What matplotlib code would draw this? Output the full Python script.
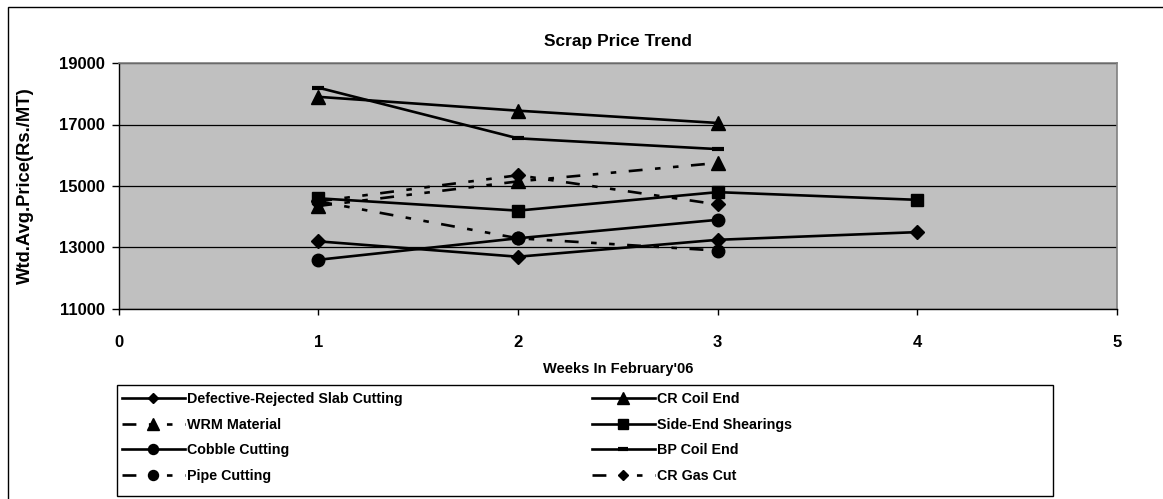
import matplotlib

matplotlib.use("Agg")
import matplotlib.pyplot as plt
from matplotlib.patches import Rectangle

plt.rcParams["font.family"] = ["Liberation Sans", "DejaVu Sans"]
plt.rcParams["font.weight"] = "bold"
plt.rcParams["lines.scale_dashes"] = False

# --- data -------------------------------------------------------------------------------
weeks = [1, 2, 3, 4]

defective_slab = [13200, 12700, 13250, 13500]
cr_coil_end = [17900, 17450, 17050]
wrm_material = [14350, 15150, 15750]
side_end_shearings = [14600, 14200, 14800, 14550]
cobble_cutting = [12600, 13300, 13900]
bp_coil_end = [18200, 16550, 16200]
pipe_cutting = [14500, 13300, 12900]
cr_gas_cut = [14500, 15350, 14400]

series_names = [
    "Defective-Rejected Slab Cutting",
    "CR Coil End",
    "WRM Material",
    "Side-End Shearings",
    "Cobble Cutting",
    "BP Coil End",
    "Pipe Cutting",
    "CR Gas Cut",
]
series_values = [
    defective_slab, cr_coil_end, wrm_material, side_end_shearings,
    cobble_cutting, bp_coil_end, pipe_cutting, cr_gas_cut,
]

# --- styles --------------------------------------------------------------------------------
DASHDOT = (0, (10, 9, 4, 9, 4, 9))
styles = [
    dict(ls="-", marker="D", ms=7),
    dict(ls="-", marker="^", ms=10),
    dict(ls=DASHDOT, marker="^", ms=10),
    dict(ls="-", marker="s", ms=9),
    dict(ls="-", marker="o", ms=9),
    dict(ls="-", marker="_", ms=9, mew=3),
    dict(ls=DASHDOT, marker="o", ms=9),
    dict(ls=DASHDOT, marker="D", ms=7),
]

W, H = 1163, 499
fig = plt.figure(figsize=(W / 100, H / 100), dpi=100)
fig.patch.set_facecolor("white")
ax = fig.add_axes([118.5 / W, 1 - 309 / H, (1117 - 118.5) / W, (309 - 63) / H])
ax.set_facecolor("#C0C0C0")

handles = []
for name, vals, st in zip(series_names, series_values, styles):
    (ln,) = ax.plot(weeks[:len(vals)], vals, color="black", lw=1.9,
                    mfc="black", mec="black", label=name, zorder=3, **st)
    handles.append(ln)

ax.set_xlim(0, 5)
ax.set_ylim(11000, 19000)
ax.set_xticks(range(0, 6))
ax.set_yticks(range(11000, 19001, 2000))
ax.yaxis.grid(True, color="black", lw=0.9)
ax.set_axisbelow(True)
for side in ("top", "right"):
    ax.spines[side].set_color("#808080")
    ax.spines[side].set_linewidth(1.2)
for side in ("left", "bottom"):
    ax.spines[side].set_color("black")
    ax.spines[side].set_linewidth(1.0)
ax.tick_params(axis="y", direction="out", length=5, width=1, pad=5, labelsize=12)
ax.tick_params(axis="x", direction="out", length=4, width=1, pad=15, labelsize=12)

ax.set_title("Scrap Price Trend", fontsize=12.5, fontweight="bold", pad=12)
ax.set_xlabel("Weeks In February'06", fontsize=10.5, fontweight="bold", labelpad=8)
ax.set_ylabel("Wtd.Avg.Price(Rs./MT)", fontsize=13.2, fontweight="bold", labelpad=18)

# legend: two columns drawn as two frameless legends inside one box
LEG_FONT = {"size": 10.3, "weight": "bold"}
col1 = [0, 2, 4, 6]
col2 = [1, 3, 5, 7]
for idx, x0 in ((col1, 122), (col2, 592)):
    lg = fig.legend([handles[i] for i in idx], [series_names[i] for i in idx],
                    loc="upper left", bbox_to_anchor=(x0 / W, 1 - 392 / H),
                    borderaxespad=0, borderpad=0, frameon=False, markerscale=0.8,
                    handlelength=4.4, handletextpad=0.15, labelspacing=0.82,
                    prop=LEG_FONT)
fig.patches.append(Rectangle((117 / W, 1 - 496 / H), (1053 - 117) / W, (496 - 385) / H,
                             transform=fig.transFigure, fill=False,
                             edgecolor="black", lw=1.0))

# outer chart border
fig.patches.append(Rectangle((8 / W, -0.05), 1.2, 1 - 7 / H + 0.05,
                             transform=fig.transFigure, fill=False,
                             edgecolor="black", lw=1.0))

fig.savefig("out.png", dpi=100, facecolor="white")
